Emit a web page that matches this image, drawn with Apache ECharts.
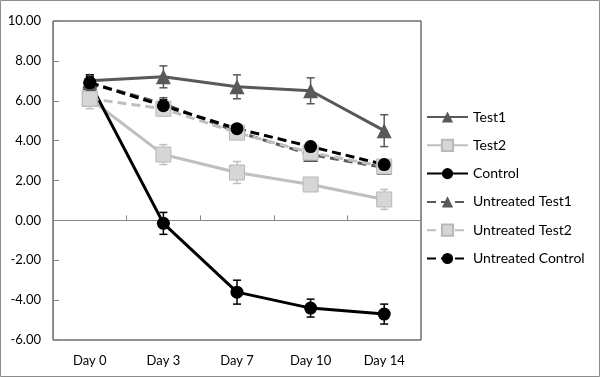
<!DOCTYPE html>
<html>
<head>
<meta charset="utf-8">
<script src="https://cdn.jsdelivr.net/npm/echarts@6/dist/echarts.min.js"></script>
<style>
  html, body { margin: 0; padding: 0; background: #fff; }
  #chart { width: 600px; height: 377px; }
</style>
</head>
<body>
<div id="chart"></div>
<script>
const days = ['Day 0', 'Day 3', 'Day 7', 'Day 10', 'Day 14']

const test1 = [7.0, 7.2, 6.7, 6.5, 4.5]
const test1Err = [0.3, 0.55, 0.6, 0.65, 0.8]
const test2 = [6.1, 3.3, 2.4, 1.8, 1.05]
const test2Err = [0.5, 0.5, 0.55, 0.2, 0.5]
const control = [6.9, -0.15, -3.6, -4.4, -4.7]
const controlErr = [0.4, 0.55, 0.6, 0.45, 0.5]
const untreatedTest1 = [6.9, 5.85, 4.45, 3.3, 2.65]
const untreatedTest1Err = [0.3, 0.3, 0.2, 0.2, 0.2]
const untreatedTest2 = [6.1, 5.6, 4.4, 3.4, 2.7]
const untreatedTest2Err = [0.3, 0.35, 0.2, 0.2, 0.2]
const untreatedControl = [6.9, 5.75, 4.6, 3.7, 2.8]
const untreatedControlErr = [0.3, 0.3, 0.15, 0.15, 0.15]

const DARK = '#595959'
const LIGHT = '#bfbfbf'
const BLACK = '#000000'

function lineSeries(name, data, color, symbol, size, dashed) {
  const isBox = symbol === 'rect'
  return {
    name: name,
    type: 'line',
    data: data,
    symbol: symbol,
    symbolSize: size,
    z: 3,
    lineStyle: { color: color, width: 3, type: dashed ? [9, 5] : 'solid' },
    itemStyle: isBox
      ? { color: '#d6d6d6', borderColor: '#b8b8b8', borderWidth: 1 }
      : { color: color, borderWidth: 0 }
  }
}

function errSeries(values, errs, color) {
  return {
    type: 'custom',
    z: 2,
    silent: true,
    data: values.map((v, i) => [i, v, errs[i]]),
    renderItem(params, api) {
      const top = api.coord([api.value(0), api.value(1) + api.value(2)])
      const bot = api.coord([api.value(0), api.value(1) - api.value(2)])
      const w = 4
      const style = { stroke: color, lineWidth: 1.5 }
      return {
        type: 'group',
        children: [
          { type: 'line', shape: { x1: top[0], y1: top[1], x2: bot[0], y2: bot[1] }, style },
          { type: 'line', shape: { x1: top[0] - w, y1: top[1], x2: top[0] + w, y2: top[1] }, style },
          { type: 'line', shape: { x1: bot[0] - w, y1: bot[1], x2: bot[0] + w, y2: bot[1] }, style }
        ]
      }
    }
  }
}

const chart = echarts.init(document.getElementById('chart'))
chart.setOption({
  backgroundColor: '#ffffff',
  animation: false,
  textStyle: { fontFamily: 'Lato' },
  graphic: [{
    type: 'rect',
    shape: { x: 0.5, y: 0.5, width: 599, height: 376 },
    style: { fill: 'none', stroke: '#8c8c8c', lineWidth: 1 },
    silent: true
  }],
  grid: {
    left: 53,
    right: 179,
    top: 21,
    bottom: 37,
    show: true,
    borderColor: '#262626',
    borderWidth: 1
  },
  legend: {
    orient: 'vertical',
    left: 421,
    top: 105,
    itemWidth: 41,
    itemHeight: 14,
    itemGap: 14.3,
    textStyle: { fontFamily: 'Lato', fontSize: 14, color: '#000' },
    data: ['Test1', 'Test2', 'Control', 'Untreated Test1', 'Untreated Test2', 'Untreated Control']
  },
  xAxis: {
    type: 'category',
    data: days,
    axisLine: { lineStyle: { color: '#868686', width: 1 } },
    axisTick: { show: true, inside: true, length: 5, lineStyle: { color: '#868686' } },
    axisLabel: { color: '#000', fontSize: 13, margin: 14, fontFamily: 'Lato' },
    splitLine: { show: false }
  },
  yAxis: {
    type: 'value',
    min: -6,
    max: 10,
    interval: 2,
    axisLine: { show: true, lineStyle: { color: '#868686', width: 1 } },
    axisTick: { show: true, inside: true, length: 6, lineStyle: { color: '#868686' } },
    axisLabel: { color: '#000', fontSize: 13, margin: 12, fontFamily: 'Lato', formatter: v => v.toFixed(2) },
    splitLine: { show: false }
  },
  series: [
    errSeries(test1, test1Err, DARK),
    errSeries(test2, test2Err, LIGHT),
    errSeries(control, controlErr, BLACK),
    errSeries(untreatedTest1, untreatedTest1Err, DARK),
    errSeries(untreatedTest2, untreatedTest2Err, LIGHT),
    errSeries(untreatedControl, untreatedControlErr, BLACK),
    lineSeries('Test1', test1, DARK, 'triangle', 15, false),
    lineSeries('Test2', test2, LIGHT, 'rect', 15, false),
    lineSeries('Control', control, BLACK, 'circle', 13, false),
    lineSeries('Untreated Test1', untreatedTest1, DARK, 'triangle', 15, true),
    lineSeries('Untreated Test2', untreatedTest2, LIGHT, 'rect', 15, true),
    lineSeries('Untreated Control', untreatedControl, BLACK, 'circle', 13, true)
  ]
})
</script>
</body>
</html>
